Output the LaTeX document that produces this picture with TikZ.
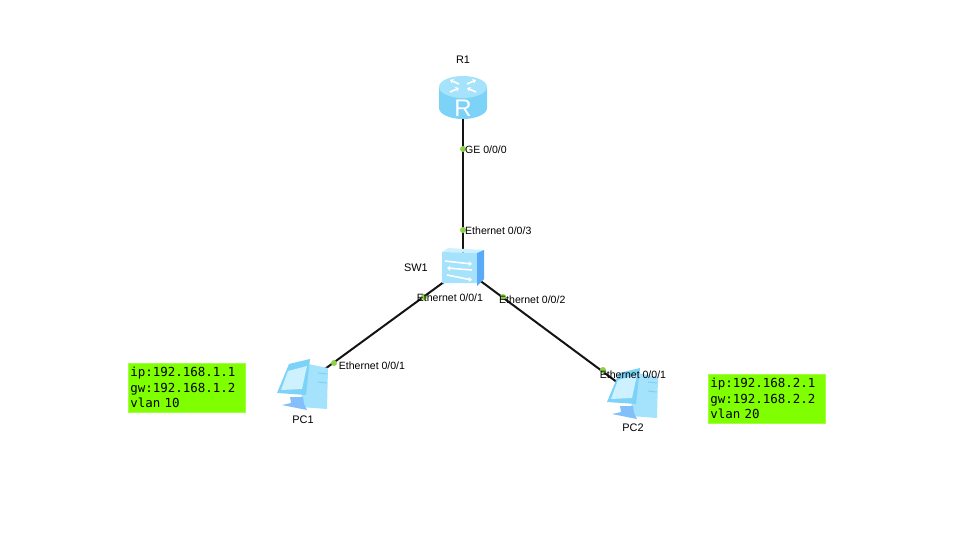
\documentclass[tikz,border=0pt]{standalone}
\usepackage{fontspec}
\usetikzlibrary{positioning,arrows.meta}
\setmainfont{Liberation Sans}
\newfontfamily\boxmono{DejaVu Sans Mono}
\definecolor{linkblack}{RGB}{20,20,20}
\definecolor{portgreen}{RGB}{140,210,70}
\definecolor{notegreen}{RGB}{128,255,0}
\definecolor{iconlight}{RGB}{165,226,251}
\definecolor{iconmid}{RGB}{125,210,247}
\definecolor{icondeep}{RGB}{90,170,250}
\definecolor{iconscreen}{RGB}{205,241,254}
\tikzset{
  devnode/.style={inner sep=0pt,minimum size=2pt},
  link/.style={draw=linkblack,line width=1.5pt},
  port/.style={circle,fill=portgreen,inner sep=0pt,minimum size=4.5pt},
  portlabel/.style={inner sep=0pt,yshift=-0.75pt,font=\fontsize{7.9}{9}\selectfont},
  devlabel/.style={inner sep=0pt,font=\fontsize{8.2}{10}\selectfont},
  notebox/.style={rectangle,fill=notegreen,draw=notegreen!75!white,line width=0.4pt,align=left,text width=85pt,inner xsep=1.5pt,inner ysep=0pt,minimum height=36.75pt,font=\boxmono\fontsize{9.35}{11.6}\selectfont},
  iconarrow/.style={white,line width=1.2pt,-{Stealth[length=2.6pt,width=4pt]}},
  routericon/.pic={
    \fill[iconmid] (-24,-10) -- (-24,11) arc[start angle=180,end angle=0,x radius=24,y radius=11] -- (24,-10) -- cycle;
    \fill[iconlight] (0,-10) ellipse[x radius=24,y radius=11];
    \draw[iconarrow] (-4,-13) -- (-13,-17);
    \draw[iconarrow] (4,-13) -- (13,-17);
    \draw[iconarrow] (-13,-5) -- (-4,-9);
    \draw[iconarrow] (13,-5) -- (4,-9);
    \node[text=white,inner sep=0pt,font=\fontsize{18}{18}\selectfont] (rmark) at (0,11) {R};
  },
  switchicon/.pic={
    \fill[iconscreen] (-21,-16) -- (-15,-20) -- (21,-18) -- (14,-15) -- cycle;
    \fill[iconlight] (-21,-16) -- (14,-15) -- (14,15) -- (-21,15) -- cycle;
    \fill[icondeep] (14,-15) -- (21,-18) -- (21,11) -- (14,18) -- cycle;
    \draw[iconarrow] (-18,-7) -- (9,-4);
    \draw[iconarrow] (9,2) -- (-16,0);
    \draw[iconarrow] (-16,7) -- (9,12);
  },
  pcicon/.pic={
    % tower, then monitor and stand in front of it
    \fill[iconlight] (0,-22) -- (25,-17) -- (24,24) -- (-2,22) -- cycle;
    \draw[iconmid,line width=0.7pt] (15,-12) -- (24,-11) (15,-3) -- (24,-2);
    \fill[icondeep!75!white] (-13,12) -- (0,12) -- (1,19) -- (4,25) -- (-21,20) -- (-12,18) -- cycle;
    \fill[iconmid] (-14,-21) -- (7,-26) -- (3,10) -- (-26,8) -- cycle;
    \fill[iconscreen] (-15,-14) -- (4,-19) -- (-1,4) -- (-22,5) -- cycle;
  }
}
\begin{document}
\begin{tikzpicture}[x=0.75pt,y=-0.75pt]
  \useasboundingbox (0,0) rectangle (977,550);
  \node[devnode] (r1) at (463,97) {};
  \node[devnode] (sw1) at (463,268) {};
  \node[devnode] (pc1) at (303,385) {};
  \node[devnode] (pc2) at (633,394) {};
  \draw[link] (r1) -- (sw1);
  \draw[link] (sw1) -- (pc1);
  \draw[link] (sw1) -- (pc2);
  \pic at (r1) {routericon};
  \pic at (sw1) {switchicon};
  \pic at (pc1) {pcicon};
  \pic at (pc2) {pcicon};
  \node[devlabel,above=24pt of r1] (r1name) {R1};
  \node[devlabel,left=25pt of sw1] (sw1name) {SW1};
  \node[devlabel,below=22pt of pc1] (pc1name) {PC1};
  \node[devlabel,below=21pt of pc2] (pc2name) {PC2};
  \node[port] (r1p0) at (463,149) {};
  \node[port] (swp3) at (463,230) {};
  \node[port] (swp1) at (424,297) {};
  \node[port] (swp2) at (503,297) {};
  \node[port] (pc1p1) at (334,363) {};
  \node[port] (pc2p1) at (603,370) {};
  \node[portlabel,right=-1pt of r1p0] (r1p0l) {GE 0/0/0};
  \node[portlabel,right=-1pt of swp3] (swp3l) {Ethernet 0/0/3};
  \node[portlabel,right=-8pt of swp1] (swp1l) {Ethernet 0/0/1};
  \node[portlabel,right=-5.5pt of swp2,yshift=-1.5pt] (swp2l) {Ethernet 0/0/2};
  \node[portlabel,right=1pt of pc1p1,yshift=-1.5pt] (pc1p1l) {Ethernet 0/0/1};
  \node[portlabel,right=-5pt of pc2p1,yshift=-3pt] (pc2p1l) {Ethernet 0/0/1};
  \node[notebox] (note1) at (187,387.5) {ip:192.168.1.1\\gw:192.168.1.2\\vlan 10};
  \node[notebox] (note2) at (767,398.5) {ip:192.168.2.1\\gw:192.168.2.2\\vlan 20};
\end{tikzpicture}
\end{document}
